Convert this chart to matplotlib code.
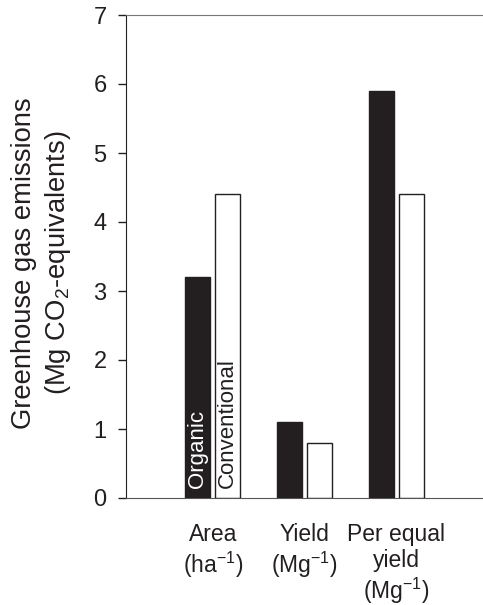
import matplotlib
matplotlib.use("Agg")
import matplotlib.pyplot as plt
import numpy as np

plt.rcParams['font.family'] = ['Liberation Sans', 'DejaVu Sans']
plt.rcParams['mathtext.fontset'] = 'custom'
plt.rcParams['mathtext.rm'] = 'Liberation Sans'
plt.rcParams['mathtext.it'] = 'Liberation Sans:italic'

categories = ["Area\n(ha$^{-1}$)", "Yield\n(Mg$^{-1}$)", "Per equal\nyield\n(Mg$^{-1}$)"]
organic = [3.2, 1.1, 5.9]
conventional = [4.4, 0.8, 4.4]
series_names = ["Organic", "Conventional"]
yticks = [0, 1, 2, 3, 4, 5, 6, 7]
ylabel = "Greenhouse gas emissions\n(Mg CO$_2$-equivalents)"

W, H = 483, 605
fig = plt.figure(figsize=(W/100, H/100), dpi=100)
ax = fig.add_axes([126/W, 1-498/H, 1-126/W, (498-15)/H])

x = np.arange(len(categories))
w = 0.27
off = 0.163
ax.bar(x - off, organic, w, color='#231f20', edgecolor='#231f20', linewidth=1)
ax.bar(x + off, conventional, w, color='white', edgecolor='#231f20', linewidth=1)

ax.text(x[0] - off, 0.15, series_names[0], rotation=90, color='white', ha='center', va='bottom', fontsize=16)
ax.text(x[0] + off, 0.15, series_names[1], rotation=90, color='#231f20', ha='center', va='bottom', fontsize=16)

ax.set_xlim(-0.946, 2.946)
ax.set_ylim(0, 7)
ax.set_yticks(yticks)
ax.set_yticklabels([str(v) for v in yticks], fontsize=17, color='#231f20')
ax.tick_params(axis='y', direction='out', length=6, width=1, color='#231f20', pad=8)
ax.set_xticks(x)
ax.set_xticklabels(categories, fontsize=16.5, color='#231f20', linespacing=1.17)
ax.tick_params(axis='x', length=0, pad=18)

ax.spines['right'].set_visible(False)
ax.spines['left'].set_color('#231f20')
ax.spines['top'].set_color('#777777')
ax.spines['bottom'].set_color('#555555')

fig.text(42/W, 1-263/H, ylabel, rotation=90, ha='center', va='center', multialignment='center',
         fontsize=19.7, color='#231f20', linespacing=1.26)

fig.savefig("out.png", dpi=100)
